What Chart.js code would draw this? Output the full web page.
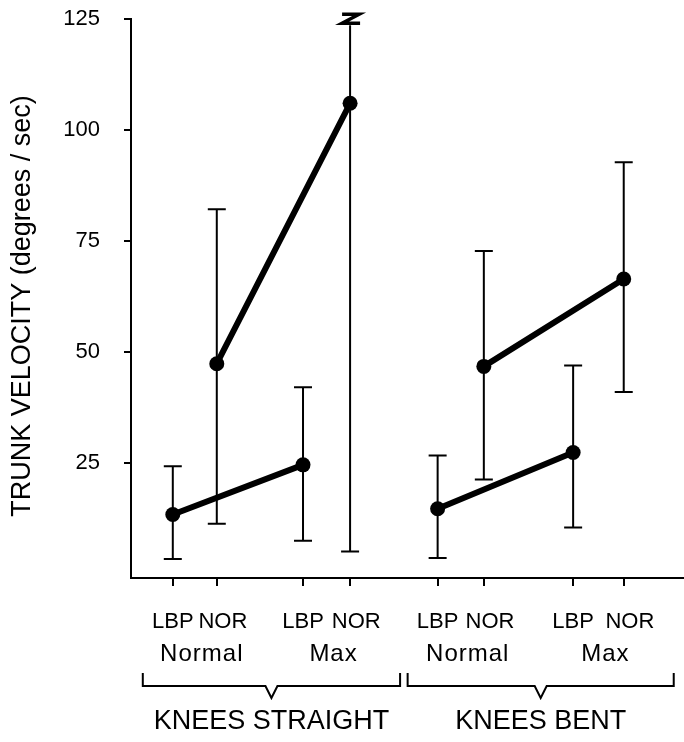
<!DOCTYPE html>
<html>
<head>
<meta charset="utf-8">
<script src="https://cdn.jsdelivr.net/npm/chart.js@4"></script>
<style>
  html, body { margin: 0; padding: 0; background: #fff; }
  #wrap { width: 684px; height: 742px; }
</style>
</head>
<body>
<div id="wrap"><canvas id="chart" width="684" height="742"></canvas></div>
<script>
// slots along the x axis: LBP / NOR for each speed, for each knee posture
const slotX = [0.95, 1.95, 3.91, 4.98, 6.97, 8.02, 10.05, 11.2];
const subjectLabels = ['LBP', 'NOR', 'LBP', 'NOR', 'LBP', 'NOR', 'LBP', 'NOR'];
const speedLabels = ['Normal', 'Max', 'Normal', 'Max'];
const kneeLabels = ['KNEES STRAIGHT', 'KNEES BENT'];
const yTicks = [25, 50, 75, 100, 125];

// mean trunk velocity and the ends of each error bar (degrees / sec)
const meanVel = [13.3, 47.3, 24.5, 106.0, 14.6, 46.7, 27.3, 66.4];
const errLow  = [3.3, 11.2, 7.4, 5.0, 3.5, 21.2, 10.4, 40.9];
const errHigh = [24.2, 82.1, 42.0, 123.6, 26.6, 72.7, 46.9, 92.7];
// bar that runs off the top of the axis: break mark instead of a cap
const brokenBar = [false, false, false, true, false, false, false, false];

// slots joined by a line (Normal -> Max for the same group)
const linePairs = [[0, 2], [1, 3], [4, 6], [5, 7]];

const FONT = '"Liberation Sans", Arial, sans-serif';

// error bars drawn under the lines and dots
const errorBars = {
  id: 'errorBars',
  beforeDatasetsDraw(chart) {
    const { ctx, scales: { x, y } } = chart;
    ctx.save();
    ctx.strokeStyle = '#000';
    ctx.lineWidth = 2;
    slotX.forEach((v, i) => {
      const px = x.getPixelForValue(v);
      const top = y.getPixelForValue(errHigh[i]);
      const bot = y.getPixelForValue(errLow[i]);
      ctx.beginPath();
      ctx.moveTo(px, top);
      ctx.lineTo(px, bot);
      ctx.moveTo(px - 9, bot);
      ctx.lineTo(px + 9, bot);
      if (!brokenBar[i]) {
        ctx.moveTo(px - 9, top);
        ctx.lineTo(px + 9, top);
      }
      ctx.stroke();
      if (brokenBar[i]) {
        // the little "Z" break sign
        ctx.lineWidth = 3.5;
        ctx.beginPath();
        ctx.moveTo(px - 8, top - 11);
        ctx.lineTo(px + 9, top - 11);
        ctx.lineTo(px - 8, top - 2);
        ctx.lineTo(px + 10, top - 2);
        ctx.stroke();
        ctx.lineWidth = 2;
      }
    });
    ctx.restore();
  }
};

// speed labels, braces and knee posture labels under the axis
const groupLabels = {
  id: 'groupLabels',
  afterDraw(chart) {
    const { ctx, scales: { x } } = chart;
    const px = i => x.getPixelForValue(slotX[i]);
    ctx.save();
    ctx.fillStyle = '#000';
    ctx.strokeStyle = '#000';
    ctx.textAlign = 'center';
    ctx.textBaseline = 'middle';
    ctx.font = '24px ' + FONT;
    ctx.letterSpacing = '1px';
    speedLabels.forEach((t, k) => {
      const cx = (px(2 * k) + px(2 * k + 1)) / 2 + 7;
      ctx.fillText(t, cx, 654);
    });
    ctx.letterSpacing = '0px';
    ctx.lineWidth = 2;
    ctx.font = '27px ' + FONT;
    kneeLabels.forEach((t, g) => {
      const left = px(4 * g) - 30;
      const right = px(4 * g + 3) + 50;
      const mid = (left + right) / 2;
      ctx.beginPath();
      ctx.moveTo(left, 673);
      ctx.lineTo(left, 686);
      ctx.lineTo(mid - 6, 686);
      ctx.lineTo(mid, 698);
      ctx.lineTo(mid + 6, 686);
      ctx.lineTo(right, 686);
      ctx.lineTo(right, 673);
      ctx.stroke();
      ctx.fillText(t, mid, 722);
    });
    ctx.restore();
  }
};

const datasets = linePairs.map(pair => ({
  data: pair.map(i => ({ x: slotX[i], y: meanVel[i] })),
  borderColor: '#000',
  backgroundColor: '#000',
  borderWidth: 6,
  borderCapStyle: 'round',
  pointRadius: 7.5,
  pointBorderWidth: 0,
  pointBackgroundColor: '#000'
}));

new Chart(document.getElementById('chart').getContext('2d'), {
  type: 'line',
  data: { datasets },
  options: {
    responsive: false,
    animation: false,
    layout: { autoPadding: false, padding: { top: 19, left: 0, right: 0, bottom: 0 } },
    plugins: { legend: { display: false }, tooltip: { enabled: false } },
    scales: {
      x: {
        type: 'linear',
        min: 0,
        max: 12.57,
        afterBuildTicks: s => { s.ticks = slotX.map(v => ({ value: v })); },
        afterFit: s => { s.height = 164; s.paddingLeft = 0; s.paddingRight = 0; },
        grid: { drawOnChartArea: false, tickLength: 8, color: '#000', lineWidth: 2 },
        border: { display: true, color: '#000', width: 2 },
        ticks: {
          color: '#000',
          font: { family: FONT, size: 22 },
          padding: 23,
          maxRotation: 0,
          autoSkip: false,
          // NOR sits a little right of its tick in the original
          callback: (v, i) => subjectLabels[i] === 'NOR' ? '  NOR' : subjectLabels[i]
        }
      },
      y: {
        type: 'linear',
        min: -1,
        max: 125,
        afterBuildTicks: s => { s.ticks = yTicks.map(v => ({ value: v })); },
        afterFit: s => { s.width = 131; s.paddingTop = 0; s.paddingBottom = 0; },
        grid: { drawOnChartArea: false, tickLength: 7, color: '#000', lineWidth: 2 },
        border: { display: true, color: '#000', width: 2 },
        ticks: { color: '#000', font: { family: FONT, size: 22 }, padding: 24 },
        title: {
          display: true,
          text: 'TRUNK VELOCITY (degrees / sec)  ',
          color: '#000',
          font: { family: FONT, size: 27 },
          padding: { top: 6, bottom: 0 }
        }
      }
    }
  },
  plugins: [errorBars, groupLabels]
});
</script>
</body>
</html>
